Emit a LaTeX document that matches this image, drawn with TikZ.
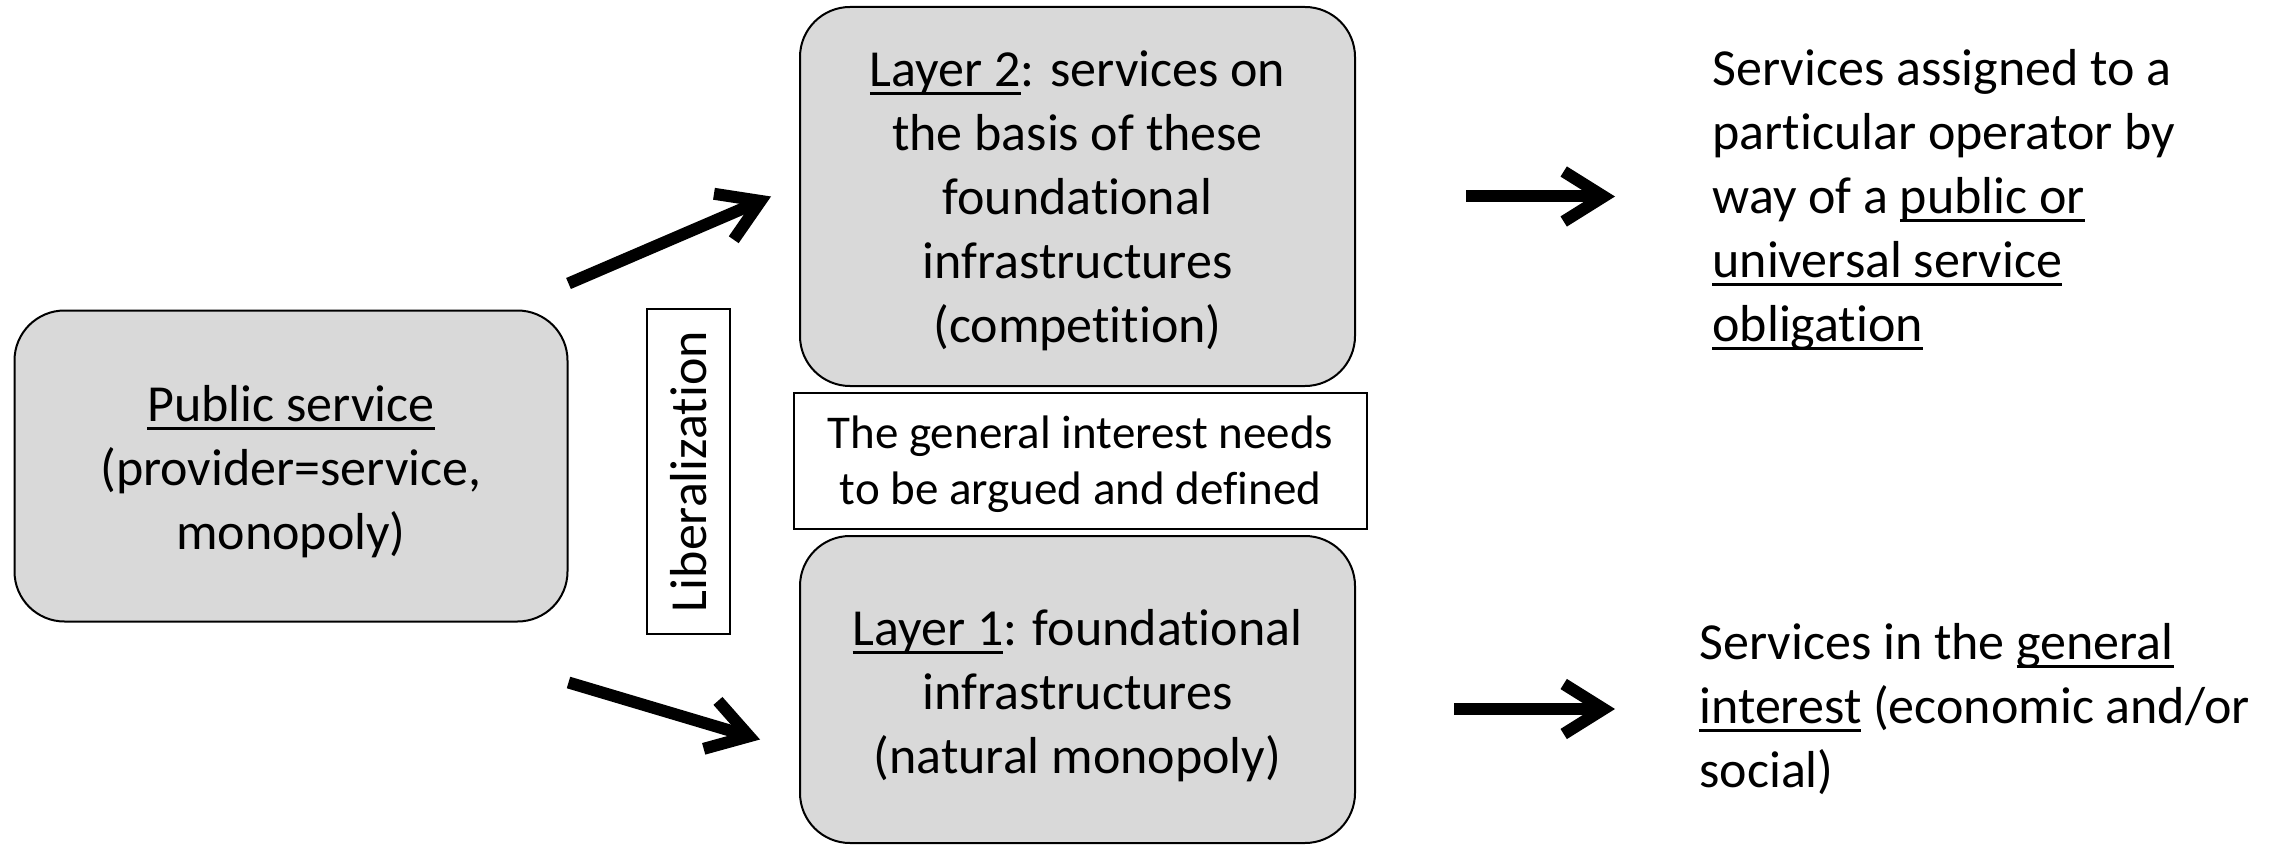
\documentclass[tikz,border=0pt]{standalone}
\usepackage{fontspec}
\setmainfont{Carlito}[Ligatures=CommonOff]
\usetikzlibrary{arrows.meta}
\definecolor{boxgray}{HTML}{D9D9D9}
\def\pxu{0.5pt}
\newcommand\undl[1]{\setbox0\hbox{#1}\rlap{\rule[-0.16em]{\wd0}{0.055em}}\box0\relax}
\begin{document}
\begin{tikzpicture}[x=0.5pt,y=-0.5pt,
  grayblock/.style={draw, line width=1pt, fill=boxgray, rounded corners=25pt, inner sep=0pt},
  notebox/.style={draw, line width=0.8pt, fill=white, inner sep=0pt},
  boxtext/.style={align=center, inner sep=0pt},
  bigfont/.style={font=\fontsize{26}{32}\selectfont},
  smallfont/.style={font=\fontsize{23.5}{28}\selectfont},
  bigarrow/.style={line width=6pt, -{Straight Barb[length=20pt, width=25pt]}}]
\useasboundingbox (0,0) rectangle (2285,845);
% boxes
\node[grayblock, minimum width=553*\pxu, minimum height=311*\pxu] (ps) at (291,466) {};
\node[grayblock, minimum width=555*\pxu, minimum height=379*\pxu] (l2) at (1077.5,196.5) {};
\node[notebox, minimum width=573*\pxu, minimum height=136*\pxu] (gi) at (1080.5,461) {};
\node[grayblock, minimum width=555*\pxu, minimum height=307*\pxu] (l1) at (1077.5,689.5) {};
\node[notebox, minimum width=83*\pxu, minimum height=325*\pxu] (lib) at (688.5,471.5) {};
% texts
\node[boxtext, bigfont] (pst) at ([yshift=-3pt]ps.center)
  {\undl{Public service}\\(provider=service,\\monopoly)};
\node[boxtext, bigfont] (l2t) at ([yshift=-2pt]l2.center)
  {\undl{Layer 2}: services on\\the basis of these\\foundational\\infrastructures\\(competition)};
\node[boxtext, smallfont] (git) at ([yshift=-1.5pt]gi.center)
  {The general interest needs\\to be argued and defined};
\node[boxtext, bigfont] (l1t) at ([yshift=-3.25pt]l1.center)
  {\undl{Layer 1}: foundational\\infrastructures\\(natural monopoly)};
\node[boxtext, bigfont, rotate=90] (libt) at (lib.center) {Liberalization};
\node[bigfont, anchor=west, align=left, inner sep=0pt] (t1) at (1712,200)
  {Services assigned to a\\particular operator by\\way of a \undl{public or}\\\undl{universal service}\\\undl{obligation}};
\node[bigfont, anchor=west, align=left, inner sep=0pt] (t2) at (1699,709)
  {Services in the \undl{general}\\\undl{interest} (economic and/or\\social)};
% arrows
\draw[bigarrow] ([yshift=13pt]ps.north east) -- ([xshift=-14pt]l2.west);
\draw[bigarrow] ([yshift=-30pt]ps.south east) -- ([xshift=-19.5pt,yshift=-25pt]l1.west);
\draw[bigarrow] ([xshift=55pt]l2.east) -- ([xshift=-48.5pt]l2.east -| t1.west);
\draw[bigarrow] ([xshift=-122.5pt]t2.west) -- ([xshift=-42pt]t2.west);
\end{tikzpicture}
\end{document}
